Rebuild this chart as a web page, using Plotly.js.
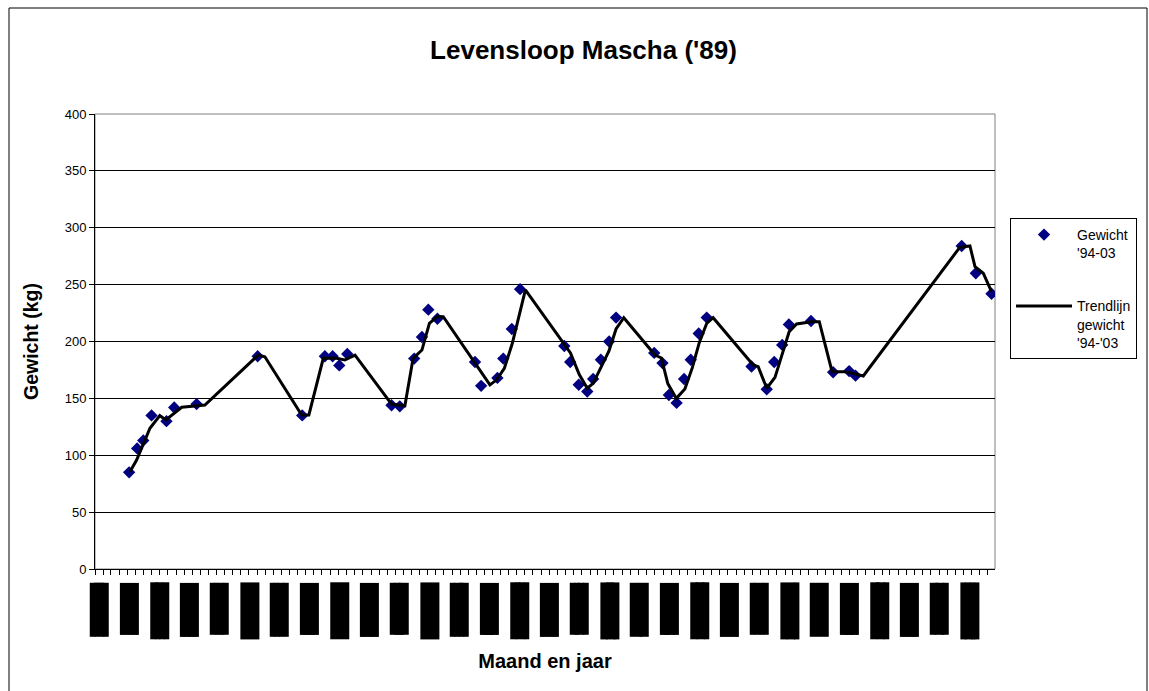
<!DOCTYPE html>
<html>
<head>
<meta charset="utf-8">
<script src="https://cdn.plot.ly/plotly-3.0.1.min.js"></script>
<style>
  html, body { margin: 0; padding: 0; background: #fff; }
  #chart { width: 1149px; height: 691px; }
</style>
</head>
<body>
<div id="chart"></div>
<script>
// Weighing dates and weights (kg)
const weighDates = ["1994-05-09","1994-06-08","1994-07-01","1994-08-01","1994-09-26","1994-10-25","1995-01-17","1995-09-03","1996-02-17","1996-05-12","1996-06-10","1996-07-05","1996-08-04","1997-01-17","1997-02-17","1997-04-12","1997-05-11","1997-06-04","1997-07-08","1997-11-26","1997-12-19","1998-02-18","1998-03-12","1998-04-13","1998-05-14","1998-10-27","1998-11-18","1998-12-20","1999-01-21","1999-02-12","1999-03-13","1999-04-13","1999-05-09","1999-09-29","1999-10-30","1999-11-23","1999-12-22","2000-01-19","2000-02-13","2000-03-14","2000-04-13","2000-09-28","2000-11-24","2000-12-22","2001-01-21","2001-02-15","2001-05-09","2001-07-31","2001-09-29","2001-10-23","2002-11-25","2003-01-17","2003-03-17"];
const weights = [85,106,113,135,130,142,145,187,135,187,187,179,189,144,143,185,204,228,220,182,161,168,185,211,246,196,182,162,156,167,184,200,221,190,181,153,146,167,184,207,221,178,158,182,197,215,218,173,174,170,284,260,242];

// Trend line vertices
const trendDates = ["1994-05-12","1994-06-06","1994-07-26","1994-09-01","1994-09-24","1994-11-22","1995-02-17","1995-09-05","1995-09-30","1996-02-15","1996-03-13","1996-05-06","1996-06-25","1996-07-26","1996-09-02","1997-01-17","1997-03-08","1997-04-08","1997-05-11","1997-06-08","1997-07-08","1997-07-30","1998-01-21","1998-02-15","1998-03-16","1998-04-15","1998-06-03","1998-11-19","1998-12-22","1999-01-21","1999-02-12","1999-03-13","1999-04-12","1999-05-09","1999-06-07","1999-10-02","1999-10-26","1999-11-19","1999-12-21","2000-01-22","2000-02-19","2000-03-16","2000-04-13","2000-05-07","2000-10-04","2000-10-23","2000-11-24","2000-12-25","2001-01-25","2001-02-16","2001-03-16","2001-05-11","2001-06-09","2001-07-27","2001-09-07","2001-10-14","2001-11-21","2002-11-18","2002-12-26","2003-01-14","2003-02-14","2003-03-17"];
const trendWeights = [85.5,95.8,123.7,134.8,131,142.2,144.2,188.1,186.6,135.4,135.4,185.2,185.2,183.7,188.1,145,143.5,185.2,192.5,216,222,221.8,161.8,166.3,176.4,198.4,245.3,190,171,159,163.2,177,191.5,211,220.9,188.1,185.5,163,150,158.2,177,199,216,220.9,179.3,177.9,158.9,168.5,191,208.6,215.4,217.4,217.4,173.5,173.5,172,169.7,282.8,284,265.8,260,243.8];

const yTickVals = [0,50,100,150,200,250,300,350,400];
const monthNames = ["jan","feb","mrt","apr","mei","jun","jul","aug","sep","okt","nov","dec"];

const xRange = ["1994-01-01","2003-03-30"];
const labelCount = 30;
const labelStartDay = 16.9;
const labelStepDays = 112.5;

const FONT = "Liberation Sans, Arial, sans-serif";

// Date axis labels (drawn as dense black blocks, as in the original)
const labelBoxLen = [54, 52, 57];
const annotations = [];
const t0 = Date.UTC(1994, 0, 1);
for (let i = 0; i < labelCount; i++) {
  const d = new Date(t0 + (labelStartDay + labelStepDays * i) * 86400000);
  const iso = d.toISOString().slice(0, 10);
  const txt = d.getUTCDate() + "-" + monthNames[d.getUTCMonth()] + "-" + String(d.getUTCFullYear()).slice(2);
  annotations.push({
    xref: "x", yref: "paper", x: iso, y: -0.0297,
    xanchor: "center", yanchor: "top",
    text: txt, textangle: -90, showarrow: false,
    width: labelBoxLen[i % 3], height: 19,
    bgcolor: "#000", borderpad: 0, borderwidth: 0,
    font: { family: FONT, size: 14, color: "#000" }
  });
}

const traces = [
  {
    type: "scatter", mode: "markers",
    x: weighDates, y: weights,
    name: "Gewicht<br>'94-03",
    legendgroup: "a",
    marker: { symbol: "diamond", size: 9.5, color: "#000080", line: { width: 0 } }
  },
  {
    type: "scatter", mode: "lines",
    x: trendDates, y: trendWeights,
    name: "Trendlijn<br>gewicht<br>'94-'03",
    legendgroup: "b",
    line: { color: "#000", width: 3 }
  }
];

const layout = {
  width: 1149, height: 691,
  margin: { l: 95, r: 154, t: 114, b: 122 },
  paper_bgcolor: "#fff", plot_bgcolor: "#fff",
  font: { family: FONT, color: "#000", size: 13 },
  title: {
    text: "<b>Levensloop Mascha ('89)</b>",
    font: { family: FONT, size: 26, color: "#000" },
    x: 0.5078, xref: "container", xanchor: "center",
    y: 0.9276, yref: "container", yanchor: "middle"
  },
  xaxis: {
    type: "date", range: xRange,
    showgrid: false, zeroline: false,
    showline: true, linecolor: "#000", linewidth: 1,
    ticks: "outside", ticklen: 5, tickcolor: "#000", tickwidth: 1,
    dtick: "M1", tick0: "1994-01-01",
    showticklabels: false,
    title: { text: "<b>Maand en jaar</b>", font: { family: FONT, size: 20, color: "#000" }, standoff: 79 }
  },
  yaxis: {
    range: [0, 400], tickvals: yTickVals,
    showgrid: true, gridcolor: "#000", gridwidth: 1,
    zeroline: false,
    showline: true, linecolor: "#000", linewidth: 1,
    ticks: "outside", ticklen: 5, tickcolor: "#000",
    tickfont: { family: FONT, size: 13, color: "#000" },
    title: { text: "<b>Gewicht (kg)</b>", font: { family: FONT, size: 19.5, color: "#000" }, standoff: 20 }
  },
  showlegend: true,
  legend: {
    x: 1.0167, y: 0.7714, xanchor: "left", yanchor: "top",
    bgcolor: "#fff", bordercolor: "#000", borderwidth: 1,
    font: { family: FONT, size: 14, color: "#000" },
    valign: "top", itemwidth: 56,
    traceorder: "grouped", tracegroupgap: 32
  },
  shapes: [
    { type: "rect", xref: "paper", yref: "paper", x0: 0, x1: 1, y0: 0, y1: 1,
      line: { color: "#808080", width: 1 }, layer: "between" },
    { type: "rect", xref: "paper", yref: "paper",
      x0: (9 - 95) / 900, x1: (1147 - 95) / 900, y0: (569 - 8) / 455, y1: (569 - 700) / 455,
      line: { color: "#000", width: 1 }, layer: "below" }
  ],
  annotations: annotations
};

Plotly.newPlot("chart", traces, layout, { staticPlot: true, displayModeBar: false });
</script>
</body>
</html>
